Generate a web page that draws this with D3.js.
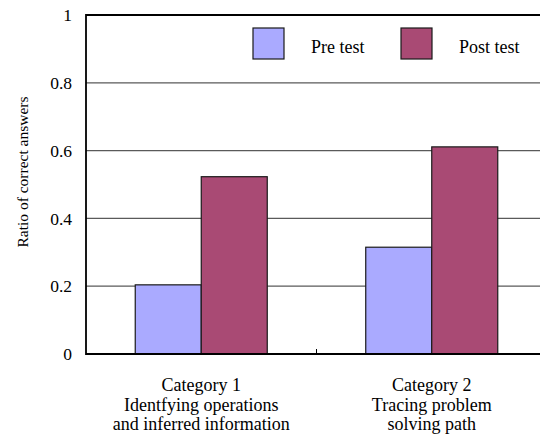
<!DOCTYPE html>
<html><head><meta charset="utf-8">
<script src="https://cdn.jsdelivr.net/npm/d3@7"></script>
<style>html,body{margin:0;padding:0;background:#fff;} svg{display:block;font-family:"Liberation Serif","Times New Roman",serif;}</style>
</head><body>
<svg id="chart" width="540" height="436"></svg>
<script>
const categories = ["Category 1", "Category 2"];
const categoryLines = [
  ["Category 1", "Identfying operations", "and inferred information"],
  ["Category 2", "Tracing problem", "solving path"]
];
const seriesNames = ["Pre test", "Post test"];
const preTest = [0.204, 0.315];
const postTest = [0.523, 0.611];
const yTicks = [0, 0.2, 0.4, 0.6, 0.8, 1];
const yTitle = "Ratio of correct answers";
const colors = ["#aaaaff", "#a94a74"];

const svg = d3.select("#chart");
const L = 86, T = 15, B = 354, R = 547;
const y = d3.scaleLinear().domain([0, 1]).range([B, T]);
const x0 = d3.scaleBand().domain(categories).range([L, R]).paddingInner(0).paddingOuter(0);
const x1 = d3.scaleBand().domain(seriesNames).range([0, x0.bandwidth()]).paddingInner(0).paddingOuter(0.746);
const values = [preTest, postTest];

// gridlines
svg.append("g").selectAll("line").data(yTicks.filter(d => d > 0 && d < 1)).join("line")
  .attr("x1", L).attr("x2", R).attr("y1", d => y(d)).attr("y2", d => y(d))
  .attr("stroke", "#5a5a5a").attr("stroke-width", 1.2);

// bars
const g = svg.append("g");
categories.forEach((c, ci) => {
  seriesNames.forEach((s, si) => {
    g.append("rect")
      .attr("x", x0(c) + x1(s))
      .attr("y", y(values[si][ci]))
      .attr("width", x1.bandwidth())
      .attr("height", y(0) - y(values[si][ci]))
      .attr("fill", colors[si])
      .attr("stroke", "#1a1a1a").attr("stroke-width", 1.2);
  });
});

// border: top, left, bottom
svg.append("path")
  .attr("d", `M${R},${T}H${L}V${B}H${R}`)
  .attr("fill", "none").attr("stroke", "#000").attr("stroke-width", 1.8);

// y axis labels
const yAxis = d3.axisLeft(y).tickValues(yTicks).tickSize(0).tickPadding(14).tickFormat(d3.format("~g"));
const ya = svg.append("g").attr("transform", `translate(${L},0)`).call(yAxis);
ya.attr("font-family", null).attr("font-size", null);
ya.select(".domain").remove();
ya.selectAll("text").style("font-size", "17.5px").attr("fill", "#000")
  .style("font-family", '"Liberation Serif", serif');

// category boundary ticks
svg.append("g").selectAll("line").data(categories.slice(1)).join("line")
  .attr("x1", d => x0(d)).attr("x2", d => x0(d))
  .attr("y1", B).attr("y2", B - 5).attr("stroke", "#000").attr("stroke-width", 1);

// category labels
categories.forEach((c, ci) => {
  const t = svg.append("text")
    .attr("x", x0(c) + x0.bandwidth() / 2)
    .attr("y", 391)
    .attr("text-anchor", "middle").attr("font-size", 18).attr("fill", "#000");
  categoryLines[ci].forEach((ln, li) => {
    t.append("tspan").attr("x", x0(c) + x0.bandwidth() / 2).attr("dy", li === 0 ? 0 : 19.5).text(ln);
  });
});

// y title
svg.append("text")
  .attr("transform", `translate(28,${172}) rotate(-90)`)
  .attr("text-anchor", "middle").attr("font-size", 15.5).attr("fill", "#000")
  .text(yTitle);

// legend
const legX = [253, 401];
seriesNames.forEach((s, i) => {
  svg.append("rect").attr("x", legX[i]).attr("y", 28).attr("width", 31).attr("height", 31)
    .attr("fill", colors[i]).attr("stroke", "#1a1a1a").attr("stroke-width", 1.2);
  svg.append("text").attr("x", legX[i] + 58).attr("y", 53)
    .attr("font-size", 18).attr("fill", "#000").text(s);
});
</script>
</body></html>
